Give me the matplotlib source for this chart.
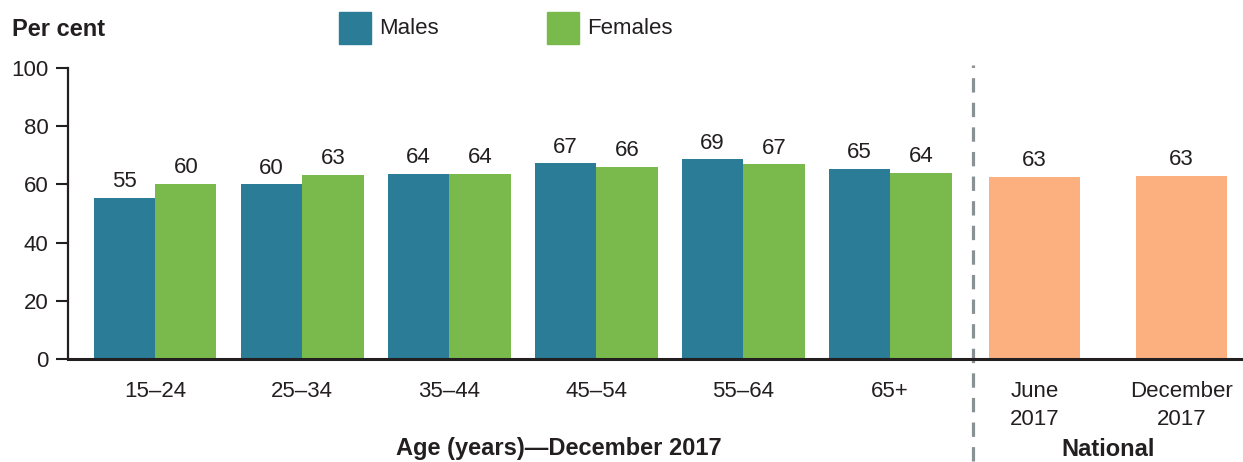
import numpy as np
import matplotlib.pyplot as plt
from matplotlib.patches import Rectangle

plt.rcParams['font.family'] = ['Liberation Sans', 'DejaVu Sans']

# Data
age_groups = ['15–24', '25–34', '35–44', '45–54', '55–64', '65+']
males = [55.4, 60.1, 63.6, 67.3, 68.7, 65.4]
females = [60.2, 63.3, 63.6, 66.0, 67.0, 64.0]
national_labels = ['June\n2017', 'December\n2017']
national = [62.6, 62.9]

male_col = '#2a7c97'
female_col = '#7ab94c'
nat_col = '#fcb080'
ink = '#231f20'

fig = plt.figure(figsize=(12.43, 4.62), dpi=100)
ax = fig.add_axes([68 / 1243, 1 - 359 / 462, 1 - 68 / 1243, (359 - 68) / 462])

x = np.arange(len(age_groups))
w = 0.418
bm = ax.bar(x - w / 2, males, w, color=male_col)
bf = ax.bar(x + w / 2, females, w, color=female_col)

xn = np.array([5.983, 6.983])
bn = ax.bar(xn, national, 0.62, color=nat_col)

for bars in (bm, bf, bn):
    for b in bars:
        ax.text(b.get_x() + b.get_width() / 2, b.get_height() + 1.9,
                '{:.0f}'.format(b.get_height()), ha='center', va='bottom',
                fontsize=16, color=ink)

ax.set_xlim(-0.592, 7.40)
ax.set_ylim(0, 100)
ax.set_yticks([0, 20, 40, 60, 80, 100])
ax.tick_params(axis='y', length=9, width=1.5, color=ink, labelsize=16,
               labelcolor=ink, pad=5)
ax.set_xticks(list(x) + list(xn))
ax.set_xticklabels(age_groups + national_labels, fontsize=16, color=ink,
                   linespacing=1.45, va='top')
ax.tick_params(axis='x', length=0, pad=16)

for s in ['top', 'right']:
    ax.spines[s].set_visible(False)
ax.spines['left'].set_linewidth(1.6)
ax.spines['left'].set_color(ink)
ax.spines['bottom'].set_linewidth(2.2)
ax.spines['bottom'].set_color(ink)

# dashed divider
ax.axvline(5.565, ymin=-0.35, ymax=1.01, color='#8a9194', lw=2.3,
           dashes=(4.5, 3.2), clip_on=False)

fig.text(12 / 1243, 1 - 29 / 462, 'Per cent', fontsize=17, fontweight='bold',
         color=ink, va='center')
fig.text(559 / 1243, 1 - 449 / 462, 'Age (years)—December 2017', fontsize=17,
         fontweight='bold', color=ink, ha='center', va='center')
fig.text(1108 / 1243, 1 - 449 / 462, 'National', fontsize=17,
         fontweight='bold', color=ink, ha='center', va='center')

# legend
for x0, col, lab in [(339, male_col, 'Males'), (547, female_col, 'Females')]:
    fig.patches.append(Rectangle((x0 / 1243, 1 - 44 / 462), 32 / 1243, 32 / 462,
                                 transform=fig.transFigure, color=col))
    fig.text((x0 + 40) / 1243, 1 - 29 / 462, lab, fontsize=16, color=ink,
             va='center')

fig.savefig('out.png', dpi=100)
